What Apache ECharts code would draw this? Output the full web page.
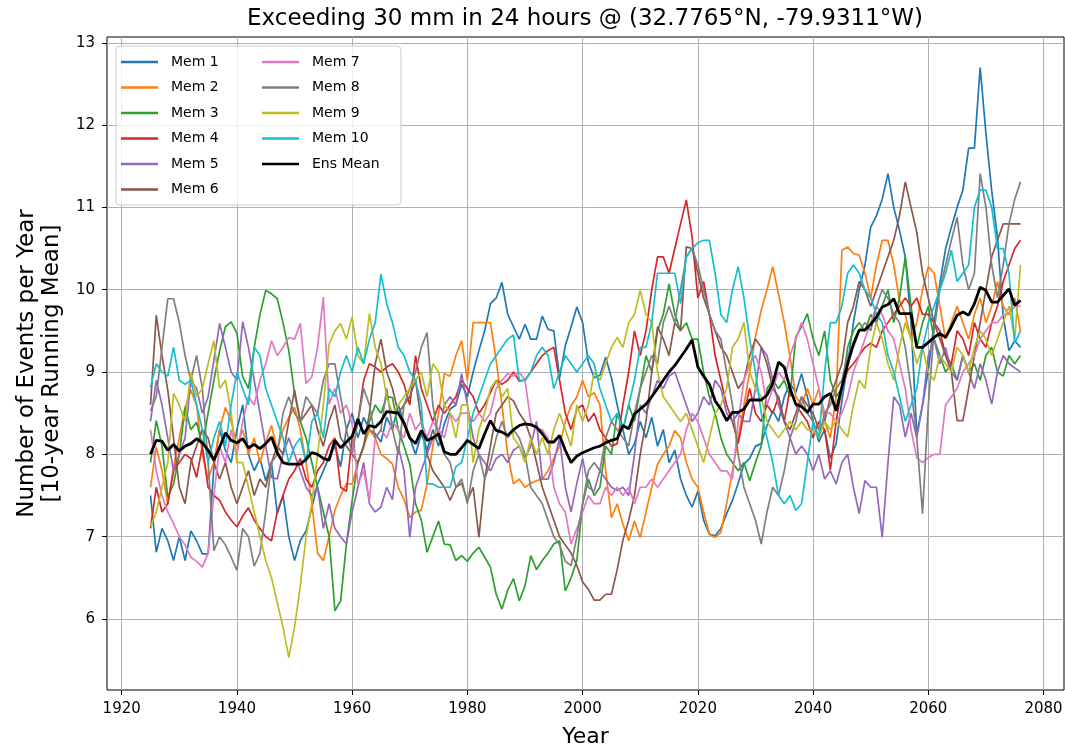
<!DOCTYPE html>
<html>
<head>
<meta charset="utf-8">
<script src="https://cdn.jsdelivr.net/npm/echarts@6/dist/echarts.min.js"></script>
<style>
html,body{margin:0;padding:0;background:#fff;}
#chart{width:1065px;height:747px;}
</style>
</head>
<body>
<div id="chart"></div>
<script>
const years = [
1925,1926,1927,1928,1929,
1930,1931,1932,1933,1934,1935,1936,1937,1938,1939,
1940,1941,1942,1943,1944,1945,1946,1947,1948,1949,
1950,1951,1952,1953,1954,1955,1956,1957,1958,1959,
1960,1961,1962,1963,1964,1965,1966,1967,1968,1969,
1970,1971,1972,1973,1974,1975,1976,1977,1978,1979,
1980,1981,1982,1983,1984,1985,1986,1987,1988,1989,
1990,1991,1992,1993,1994,1995,1996,1997,1998,1999,
2000,2001,2002,2003,2004,2005,2006,2007,2008,2009,
2010,2011,2012,2013,2014,2015,2016,2017,2018,2019,
2020,2021,2022,2023,2024,2025,2026,2027,2028,2029,
2030,2031,2032,2033,2034,2035,2036,2037,2038,2039,
2040,2041,2042,2043,2044,2045,2046,2047,2048,2049,
2050,2051,2052,2053,2054,2055,2056,2057,2058,2059,
2060,2061,2062,2063,2064,2065,2066,2067,2068,2069,
2070,2071,2072,2073,2074,2075,2076];

const xTickLabels = [1920,1940,1960,1980,2000,2020,2040,2060,2080];
const yTickLabels = [6,7,8,9,10,11,12,13];
const seriesNames = ['Mem 1','Mem 2','Mem 3','Mem 4','Mem 5','Mem 6','Mem 7','Mem 8','Mem 9','Mem 10','Ens Mean'];

const mem1 = [
7.50,6.81,7.10,6.95,6.71,
7.00,6.71,7.07,6.95,6.79,6.79,7.85,8.30,8.05,7.90,
8.30,8.60,8.00,7.80,7.95,7.68,7.90,7.28,7.50,7.00,
6.71,6.95,7.07,7.35,7.64,7.80,7.97,8.10,7.85,8.30,
8.50,8.20,8.45,8.30,8.25,8.15,8.45,8.30,8.60,8.40,
8.20,8.00,8.25,8.05,8.30,8.10,8.37,8.55,8.60,8.85,
8.70,9.00,9.26,9.50,9.83,9.90,10.09,9.70,9.55,9.40,
9.58,9.40,9.40,9.68,9.52,9.50,8.93,9.32,9.55,9.79,
9.60,9.12,8.93,8.96,9.18,8.93,8.60,8.30,8.00,8.13,
8.40,8.20,8.45,8.10,8.30,7.90,8.05,7.70,7.50,7.36,
7.55,7.20,7.03,7.01,7.10,7.28,7.44,7.65,7.88,7.95,
8.10,8.13,8.35,8.53,8.40,8.70,8.86,8.75,8.98,8.70,
8.40,8.15,8.30,7.95,8.13,8.65,9.10,9.60,10.00,10.30,
10.76,10.90,11.10,11.41,11.00,10.72,10.40,9.60,8.25,8.60,
9.02,9.60,10.07,10.50,10.76,11.00,11.21,11.72,11.72,12.70,
11.90,11.20,10.64,9.67,9.26,9.38,9.30];

const mem2 = [
7.60,8.09,7.80,7.40,7.84,
8.20,8.57,8.78,8.60,8.00,7.70,7.90,8.30,8.57,8.40,
8.10,8.30,8.00,8.20,7.90,8.15,8.35,8.05,8.30,8.45,
8.57,8.30,7.90,7.40,6.80,6.71,7.00,7.32,7.50,7.64,
7.64,7.90,8.10,8.30,8.20,8.00,7.95,7.88,7.60,7.45,
7.23,7.30,7.32,7.64,8.10,8.50,8.98,8.95,9.20,9.38,
8.90,9.60,9.60,9.60,9.60,9.14,8.60,8.00,7.64,7.70,
7.60,7.65,7.68,7.70,7.80,7.95,8.10,8.40,8.59,8.70,
8.90,8.70,8.75,8.60,7.80,7.23,7.40,7.15,6.95,7.19,
6.99,7.30,7.60,7.88,8.00,8.10,8.29,8.20,7.90,7.70,
7.60,7.30,7.03,6.99,7.05,7.40,7.80,8.20,8.60,9.00,
9.43,9.75,10.00,10.28,9.95,9.60,9.18,8.70,8.60,8.80,
8.60,8.80,8.40,8.20,8.70,10.48,10.52,10.44,10.42,10.20,
9.90,10.30,10.60,10.60,10.30,9.87,9.70,9.40,9.60,10.00,
10.28,10.20,9.80,9.40,9.60,9.80,9.60,9.40,9.70,9.90,
9.60,9.80,10.10,9.80,9.70,9.90,9.50];

const mem3 = [
7.90,8.41,8.10,7.48,7.64,
8.00,8.57,8.30,8.39,8.10,8.50,8.90,9.26,9.55,9.61,
9.47,8.94,8.80,9.30,9.70,9.99,9.95,9.89,9.60,9.26,
8.74,8.40,8.20,7.90,7.60,7.30,7.00,6.10,6.22,6.91,
7.44,7.90,8.10,8.40,8.60,8.50,8.70,8.69,8.30,8.10,
7.88,7.40,7.20,6.81,7.00,7.19,6.91,6.90,6.71,6.77,
6.70,6.80,6.87,6.75,6.63,6.30,6.12,6.35,6.49,6.22,
6.40,6.77,6.60,6.71,6.80,6.91,6.95,6.34,6.50,6.71,
7.40,7.70,7.50,7.60,8.10,8.00,8.50,8.30,8.60,8.40,
8.80,9.20,9.00,9.50,9.70,10.07,9.70,9.50,9.60,9.40,
9.40,9.00,8.70,8.50,8.20,8.00,7.90,7.80,7.90,7.68,
7.90,8.10,8.80,8.90,8.80,8.90,8.70,9.43,9.55,9.71,
9.40,9.20,9.50,8.90,8.70,8.80,9.30,9.50,9.60,9.50,
9.70,9.60,9.80,10.00,9.60,9.90,10.40,9.80,9.30,9.60,
9.80,9.40,9.20,9.00,9.10,8.90,9.20,9.00,9.10,8.90,
9.20,9.30,9.00,8.95,9.20,9.10,9.20];

const mem4 = [
7.10,7.60,7.30,7.40,7.80,
7.90,8.00,7.95,7.72,8.10,7.60,7.50,7.44,7.30,7.20,
7.12,7.25,7.35,7.20,7.10,7.00,6.95,7.30,7.50,7.70,
7.80,7.95,7.70,7.60,7.80,7.90,8.10,8.20,7.60,7.55,
8.20,8.40,8.90,9.10,9.06,9.00,9.06,9.10,9.00,8.85,
8.60,9.20,8.80,8.60,8.40,8.60,8.50,8.60,8.70,8.90,
8.80,8.70,8.50,8.60,8.75,8.90,8.85,8.90,9.00,8.89,
8.90,9.00,9.10,9.20,9.26,9.30,8.90,8.50,8.30,8.55,
8.60,8.40,8.50,8.30,8.20,8.10,8.13,8.60,9.00,9.50,
9.20,9.50,10.00,10.40,10.40,10.20,10.50,10.80,11.09,10.64,
9.90,10.10,9.70,9.20,8.90,8.60,8.40,8.13,8.50,8.80,
8.50,8.40,8.60,8.50,8.70,8.40,8.80,8.60,8.50,8.40,
8.20,8.40,8.30,7.81,8.40,8.80,9.02,9.10,9.20,9.30,
9.35,9.30,9.50,9.60,9.70,9.80,9.90,9.80,9.90,9.70,
9.70,9.60,9.50,9.20,9.10,9.50,9.40,9.20,9.60,9.40,
9.30,9.60,9.80,10.10,10.30,10.50,10.60];

const mem5 = [
8.40,8.90,8.60,8.20,7.80,
8.00,8.20,8.90,8.80,8.50,8.70,9.14,9.59,9.30,9.00,
8.90,9.61,9.30,8.90,8.50,8.10,7.72,7.70,8.00,8.20,
8.00,7.80,7.60,7.50,7.60,7.10,7.40,7.10,7.00,6.91,
7.30,7.60,7.90,7.40,7.30,7.36,7.60,7.45,8.10,7.80,
6.99,7.60,7.80,8.00,8.20,8.25,8.60,8.70,8.60,8.98,
8.60,8.20,8.00,7.90,7.80,7.95,8.00,7.90,8.05,8.10,
7.95,8.10,8.40,7.70,7.70,7.90,8.20,7.60,7.30,7.65,
7.95,7.60,7.55,7.80,7.70,7.60,7.56,7.60,7.50,8.00,
8.60,8.50,8.70,8.90,8.80,8.95,9.00,8.80,8.60,8.40,
8.50,8.70,8.60,8.90,8.80,8.50,8.40,8.50,8.40,8.40,
8.80,9.30,9.20,8.90,8.60,8.40,8.20,8.00,8.10,8.00,
7.80,8.00,7.70,7.80,7.64,7.90,8.00,7.60,7.28,7.68,
7.60,7.60,6.99,7.90,8.70,8.60,8.21,8.50,8.20,8.60,
9.20,9.40,9.10,9.30,9.00,8.90,9.20,9.00,8.80,9.10,
8.90,8.61,9.00,9.20,9.10,9.05,9.00];

const mem6 = [
8.60,9.69,9.20,8.78,8.20,
7.60,7.40,7.90,8.10,8.30,8.20,7.90,7.70,7.90,7.60,
7.40,7.60,7.80,7.50,7.70,7.60,7.90,8.10,8.00,8.40,
8.78,8.40,8.50,8.60,8.30,8.10,8.40,8.60,8.20,8.10,
8.00,7.90,8.10,8.50,9.10,9.40,9.00,8.80,8.50,8.60,
8.70,8.90,8.40,8.00,7.80,7.70,7.60,7.44,7.60,7.65,
7.44,7.60,6.99,7.70,8.10,8.50,8.60,8.70,8.65,8.50,
8.40,8.20,7.90,7.60,7.40,7.20,7.00,6.90,6.80,6.65,
6.45,6.36,6.23,6.23,6.30,6.30,6.60,6.96,7.20,7.50,
8.00,8.40,9.00,9.55,9.40,9.20,9.60,9.50,10.52,10.50,
10.20,9.90,9.70,9.50,9.30,9.20,9.00,8.80,8.90,9.20,
9.40,9.30,9.10,8.80,8.70,8.40,8.30,8.50,8.70,8.60,
8.50,8.30,8.40,8.70,8.90,9.10,9.60,9.80,10.10,10.00,
9.80,10.00,10.20,10.40,10.60,10.90,11.31,11.00,10.70,10.20,
9.90,9.60,9.40,9.20,9.00,8.41,8.41,8.80,9.20,9.60,
10.00,10.40,10.60,10.80,10.80,10.80,10.80];

const mem7 = [
8.30,7.80,7.50,7.30,7.16,
7.00,6.90,6.75,6.70,6.63,6.80,7.50,8.10,7.90,8.30,
8.00,8.40,8.70,8.60,8.90,9.10,9.38,9.20,9.30,9.42,
9.40,9.59,8.86,8.94,9.30,9.91,8.61,8.80,8.50,8.60,
8.37,7.64,7.80,7.44,8.20,8.30,8.20,8.40,8.30,8.20,
8.50,8.30,8.40,8.20,8.40,8.30,8.20,8.50,8.40,8.50,
8.50,8.40,8.50,8.40,8.50,8.80,8.90,8.98,8.95,9.00,
8.90,8.40,8.30,8.30,8.20,7.60,7.40,7.30,6.91,7.10,
7.30,7.50,7.40,7.40,7.60,7.50,7.60,7.50,7.60,7.40,
7.60,7.60,7.70,7.60,7.70,7.80,7.90,8.00,8.30,8.50,
8.40,8.20,8.00,7.90,7.80,7.80,7.70,8.40,8.90,9.10,
9.20,9.00,8.60,8.80,9.00,8.90,9.20,9.40,9.60,9.40,
9.10,8.80,8.50,8.50,8.40,8.50,8.70,9.00,9.20,9.40,
9.60,9.80,9.70,9.50,9.40,9.10,8.80,8.30,7.96,7.90,
7.96,8.00,8.00,8.60,8.70,8.80,9.00,9.10,9.20,9.40,
9.50,9.60,9.60,9.70,9.70,9.80,9.80];

const mem8 = [
8.53,8.70,9.30,9.89,9.89,
9.60,9.20,8.90,9.20,8.80,7.90,6.83,7.00,6.90,6.75,
6.59,7.10,7.00,6.64,6.80,7.30,7.90,8.00,8.50,8.70,
8.50,8.40,8.70,8.60,8.50,8.90,9.10,9.10,8.70,8.30,
8.00,8.40,8.80,8.60,8.20,8.30,8.80,8.30,8.00,8.60,
8.80,9.00,9.30,9.48,8.60,8.20,8.00,7.90,7.60,7.70,
7.40,7.80,8.00,7.70,7.90,8.20,8.40,8.20,8.30,8.20,
8.00,7.60,7.50,7.40,7.20,7.00,6.90,6.70,6.65,7.00,
7.40,7.80,7.90,7.80,8.20,8.40,8.30,8.20,8.10,8.50,
8.80,9.00,9.20,9.10,9.60,9.80,9.60,10.00,10.40,10.50,
10.30,10.00,9.70,9.50,9.40,9.00,8.60,8.00,7.60,7.40,
7.20,6.91,7.30,7.60,7.50,7.80,8.20,8.40,8.70,8.50,
8.40,8.20,8.50,8.60,8.80,8.90,9.20,9.30,9.50,9.60,
9.50,9.80,10.00,9.90,9.70,9.60,9.30,8.80,8.20,7.28,
8.60,9.50,10.00,10.30,10.60,10.88,10.30,10.00,10.20,11.41,
11.00,10.30,9.90,10.30,10.80,11.10,11.31];

const mem9 = [
7.12,7.30,7.60,7.90,8.74,
8.60,8.40,9.00,8.70,8.80,9.10,9.38,8.80,8.90,8.50,
7.90,7.90,7.60,7.30,7.00,6.71,6.50,6.20,5.90,5.53,
5.90,6.40,7.00,7.40,8.00,8.60,9.34,9.50,9.59,9.40,
9.67,9.20,9.10,9.71,9.30,9.10,8.70,8.50,8.60,8.70,
8.80,8.90,9.00,8.70,9.10,9.00,8.60,8.50,8.20,8.60,
8.60,7.90,8.30,8.50,8.80,8.90,8.70,8.80,8.20,8.10,
7.90,8.20,8.00,8.20,8.00,8.30,8.50,8.30,8.10,8.60,
8.40,8.60,9.00,8.90,9.10,9.30,9.42,9.30,9.60,9.70,
9.99,9.70,9.60,9.00,8.70,8.60,8.50,8.40,8.50,8.30,
8.10,7.90,8.20,8.50,8.60,8.80,9.30,9.40,9.60,9.00,
8.80,8.70,8.40,8.30,8.20,8.30,8.40,8.30,8.40,8.30,
8.30,8.20,8.40,8.30,8.41,8.30,8.21,8.60,8.90,8.80,
9.30,9.60,9.40,9.10,8.90,9.30,9.60,9.40,9.10,9.30,
9.00,8.90,9.20,9.10,9.00,9.30,9.20,9.00,9.30,9.50,
9.40,9.20,9.40,9.60,9.80,9.40,10.30];

const mem10 = [
8.82,9.10,9.00,8.95,9.30,
8.90,8.85,8.90,8.60,8.30,7.90,8.20,8.40,8.10,8.60,
9.00,8.80,8.60,9.30,9.20,8.80,8.60,8.40,8.20,7.90,
8.10,8.20,7.90,8.40,8.50,8.20,8.80,8.70,9.00,9.20,
9.00,9.30,9.10,9.40,9.60,10.19,9.83,9.60,9.30,9.20,
9.00,8.90,8.60,7.64,7.64,7.60,7.60,7.60,7.85,7.90,
8.20,8.50,8.70,8.90,9.10,9.20,9.30,9.40,9.45,8.90,
8.90,9.00,9.20,9.30,9.20,8.80,9.00,9.20,9.10,9.00,
9.10,9.20,9.10,8.80,8.60,8.40,8.50,8.30,8.60,8.90,
9.30,9.30,9.60,10.20,10.20,10.20,10.20,9.83,10.40,10.50,
10.57,10.60,10.60,10.20,9.70,9.60,10.00,10.28,9.90,9.40,
9.00,8.50,8.20,7.90,7.50,7.40,7.50,7.32,7.40,7.90,
8.40,8.20,9.00,9.60,9.60,9.80,10.20,10.30,10.20,10.00,
9.90,9.70,9.60,9.20,9.00,8.70,8.40,8.60,8.80,9.30,
9.60,9.80,10.00,10.20,10.48,10.10,10.20,10.30,11.00,11.21,
11.21,11.00,10.50,10.50,10.20,9.35,9.50];

const ensMean = [
8.00,8.17,8.16,8.05,8.12,
8.04,8.10,8.13,8.19,8.14,8.05,7.93,8.09,8.26,8.17,
8.14,8.19,8.08,8.12,8.07,8.13,8.21,8.02,7.90,7.88,
7.88,7.88,7.94,8.02,8.00,7.95,7.93,8.17,8.08,8.15,
8.22,8.43,8.25,8.35,8.33,8.40,8.52,8.51,8.50,8.38,
8.20,8.13,8.29,8.17,8.20,8.25,8.03,8.00,8.00,8.08,
8.17,8.12,8.07,8.25,8.41,8.29,8.27,8.23,8.30,8.35,
8.37,8.36,8.33,8.25,8.15,8.15,8.23,8.05,7.90,7.98,
8.02,8.05,8.08,8.10,8.14,8.17,8.19,8.35,8.31,8.49,
8.55,8.61,8.70,8.80,8.90,9.00,9.08,9.18,9.28,9.39,
9.06,8.95,8.85,8.65,8.55,8.41,8.51,8.51,8.55,8.66,
8.66,8.66,8.72,8.86,9.12,9.06,8.80,8.61,8.58,8.51,
8.61,8.61,8.70,8.74,8.53,8.82,9.10,9.34,9.51,9.51,
9.58,9.67,9.79,9.82,9.89,9.71,9.71,9.71,9.30,9.30,
9.36,9.42,9.47,9.42,9.55,9.69,9.73,9.69,9.83,10.03,
9.99,9.85,9.85,9.93,10.01,9.81,9.87];

const memberValues = [mem1, mem2, mem3, mem4, mem5, mem6, mem7, mem8, mem9, mem10, ensMean];
const colors = ['#1f77b4','#ff7f0e','#2ca02c','#d62728','#9467bd','#8c564b','#e377c2','#7f7f7f','#bcbd22','#17becf','#000000'];

const FONT = 'DejaVu Sans';
const TITLE = 'Exceeding 30 mm in 24 hours @ (32.7765°N, -79.9311°W)';
const TITLE_SIZE = 23;

// centre the title over the plot area (plot spans x 107..1064)
const mctx = document.createElement('canvas').getContext('2d');
mctx.font = TITLE_SIZE + 'px "' + FONT + '"';
const titleW = mctx.measureText(TITLE).width;
const plotCenter = (107 + 1064) / 2;

const chart = echarts.init(document.getElementById('chart'), null, {renderer: 'canvas'});

const series = memberValues.map((arr, k) => ({
  name: seriesNames[k],
  type: 'line',
  data: years.map((y, i) => [y, arr[i]]),
  symbol: 'none',
  showSymbol: false,
  color: colors[k],
  lineStyle: {color: colors[k], width: k === 10 ? 2.8 : 1.7},
  z: k === 10 ? 3 : 2,
  animation: false
}));

const legendCommon = {
  orient: 'vertical',
  icon: 'rect',
  itemWidth: 37,
  itemHeight: 2.5,
  itemGap: 9.5,
  padding: 0,
  textStyle: {fontFamily: FONT, fontSize: 14, color: '#000', lineHeight: 16, padding: [0, 0, 0, 8]},
  selectedMode: false,
  z: 6
};

chart.setOption({
  animation: false,
  backgroundColor: '#ffffff',
  color: colors,
  title: {
    text: TITLE,
    left: Math.round(plotCenter - titleW / 2),
    top: 8,
    padding: 0,
    textStyle: {fontFamily: FONT, fontSize: TITLE_SIZE, fontWeight: 'normal', color: '#000'}
  },
  grid: {
    left: 107, right: 1, top: 37, bottom: 57,
    show: true, borderColor: '#000', borderWidth: 1, backgroundColor: 'transparent',
    containLabel: false,
    outerBoundsMode: 'none'
  },
  legend: [
    Object.assign({}, legendCommon, {data: seriesNames.slice(0, 6), left: 121, top: 54}),
    Object.assign({}, legendCommon, {data: seriesNames.slice(6), left: 262, top: 54})
  ],
  graphic: [{
    type: 'rect',
    shape: {x: 116, y: 46, width: 285, height: 159, r: 4},
    style: {fill: 'rgba(255,255,255,0.8)', stroke: '#cccccc', lineWidth: 1},
    z: 5, silent: true
  }],
  xAxis: {
    type: 'value',
    min: 1917.45,
    max: 2083.55,
    name: 'Year',
    nameLocation: 'middle',
    nameGap: 36,
    nameTextStyle: {fontFamily: FONT, fontSize: 22, color: '#000'},
    axisLine: {show: false},
    axisTick: {show: true, length: 5, lineStyle: {color: '#000'}, customValues: xTickLabels},
    axisLabel: {fontFamily: FONT, fontSize: 15, color: '#000', margin: 12, customValues: xTickLabels,
                formatter: v => String(Math.round(v))},
    splitLine: {show: true, lineStyle: {color: '#b0b0b0', width: 1}}
  },
  yAxis: {
    type: 'value',
    min: 5.137,
    max: 13.07,
    name: 'Number of Events per Year\n[10-year Running Mean]',
    nameLocation: 'middle',
    nameRotate: 90,
    nameGap: 33,
    nameTextStyle: {fontFamily: FONT, fontSize: 23, color: '#000', lineHeight: 25, align: 'center'},
    axisLine: {show: false},
    axisTick: {show: true, length: 5, lineStyle: {color: '#000'}, customValues: yTickLabels},
    axisLabel: {fontFamily: FONT, fontSize: 15, color: '#000', margin: 12, customValues: yTickLabels,
                formatter: v => String(Math.round(v))},
    splitLine: {show: true, lineStyle: {color: '#b0b0b0', width: 1}}
  },
  series: series
});
</script>
</body>
</html>
